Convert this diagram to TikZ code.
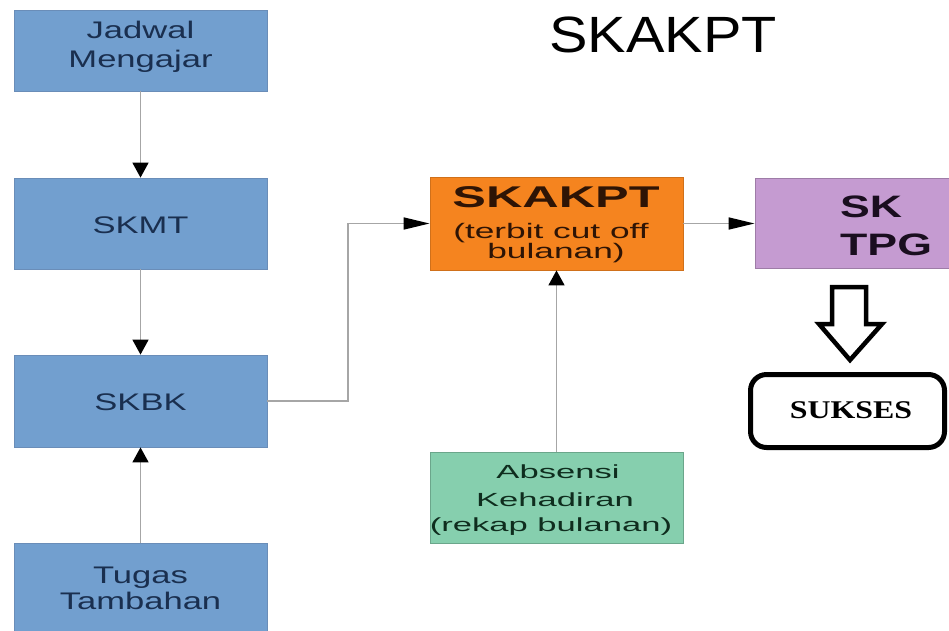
\documentclass[tikz,border=0pt]{standalone}
\usepackage{fontspec}
\setmainfont{Liberation Sans}
\newfontfamily\fBlue{Liberation Sans}[FakeStretch=1.44]
\newfontfamily\fTitle{Liberation Sans}[FakeStretch=1.13]
\newfontfamily\fOrange{Liberation Sans}[FakeStretch=1.68]
\newfontfamily\fGreen{Liberation Sans}[FakeStretch=1.82]
\newfontfamily\fSerif{Liberation Serif}[FakeStretch=1.25]
\usetikzlibrary{arrows.meta}
\definecolor{bluefill}{HTML}{729FCF}
\definecolor{blueline}{HTML}{6A8DB8}
\definecolor{bluetext}{HTML}{1A2F4F}
\definecolor{orangefill}{HTML}{F5841F}
\definecolor{orangetext}{HTML}{2E1405}
\definecolor{purplefill}{HTML}{C59BD1}
\definecolor{purpletext}{HTML}{1A0E1F}
\definecolor{greenfill}{HTML}{86CFAE}
\definecolor{greentext}{HTML}{0F2D1E}
\definecolor{connline}{HTML}{A6A6A6}
\tikzset{
  boxshape/.style={rectangle, inner sep=0pt, line width=0.8pt},
  bluebox/.style={boxshape, fill=bluefill, draw=blueline, minimum width=253pt},
  txtline/.style={anchor=base, inner sep=0pt},
  bluetxt/.style={txtline, text=bluetext, font=\fBlue\fontsize{24}{29}\selectfont},
  vconn/.style={draw=connline, line width=1.6pt, -{Triangle[length=15pt,width=16pt,color=black]}},
  hconn/.style={draw=connline, line width=1.6pt, -{Triangle[length=26pt,width=12pt,color=black]}},
}
\begin{document}
\begin{tikzpicture}[x=1pt,y=-1pt]
\clip (0,0) rectangle (949,630);
\fill[white] (0,0) rectangle (949,630);

% title
\node[txtline, font=\fTitle\fontsize{51}{60}\selectfont, text=black] (title) at (663,52) {SKAKPT};

% blue boxes
\node[bluebox, minimum height=81pt] (jad) at (140.5,50.5) {};
\node[bluebox, minimum height=91pt] (skmt) at (140.5,223.5) {};
\node[bluebox, minimum height=92pt] (skbk) at (140.5,401) {};
\node[bluebox, minimum height=97pt] (tugas) at (140.5,591.5) {};

\node[bluetxt] (jadA) at (140.5,38) {Jadwal};
\node[bluetxt] (jadB) at (140.5,67) {Mengajar};
\node[bluetxt] (skmtT) at (140.5,233) {SKMT};
\node[bluetxt] (skbkT) at (140.5,410) {SKBK};
\node[bluetxt] (tugA) at (140.5,583) {Tugas};
\node[bluetxt] (tugB) at (140.5,609) {Tambahan};

% orange box
\node[boxshape, fill=orangefill, draw=orangefill!85!black, minimum width=253pt, minimum height=93pt] (skakpt) at (556.5,223.5) {};
\node[txtline, text=orangetext, font=\fOrange\bfseries\fontsize{30}{36}\selectfont] (skakptA) at (556,207) {SKAKPT};
\node[txtline, text=orangetext, font=\fOrange\fontsize{21}{25}\selectfont] (skakptB) at (551,238) {(terbit cut off};
\node[txtline, text=orangetext, font=\fOrange\fontsize{21}{25}\selectfont] (skakptC) at (556,258) {bulanan)};

% purple box
\node[boxshape, fill=purplefill, draw=purplefill!80!black, minimum width=215pt, minimum height=90pt] (sktpg) at (862.5,223) {};
\node[txtline, anchor=base west, text=purpletext, font=\fBlue\bfseries\fontsize{31}{37}\selectfont] (sktpgA) at (840,217) {SK};
\node[txtline, anchor=base west, text=purpletext, font=\fBlue\bfseries\fontsize{31}{37}\selectfont] (sktpgB) at (840,255) {TPG};

% green box
\node[boxshape, fill=greenfill, draw=greenfill!80!black, minimum width=253pt, minimum height=91pt] (abs) at (556.5,497.5) {};
\node[txtline, text=greentext, font=\fGreen\fontsize{19}{24}\selectfont] (absA) at (558,478) {Absensi};
\node[txtline, text=greentext, font=\fGreen\fontsize{19}{24}\selectfont] (absB) at (555,506) {Kehadiran};
\node[txtline, text=greentext, font=\fGreen\fontsize{19}{24}\selectfont] (absC) at (551,531) {(rekap bulanan)};

% connectors
\coordinate (elb) at (348,0);
\draw[vconn] (jad.south) -- (skmt.north);
\draw[vconn] (skmt.south) -- (skbk.north);
\draw[vconn] (tugas.north) -- (skbk.south);
\draw[hconn] (skbk.east) -| (elb |- skakpt.west) -- (skakpt.west);
\draw[hconn] (skakpt.east) -- (sktpg.west |- skakpt.east);
\draw[vconn] (abs.north) -- (skakpt.south);

% hollow arrow
\draw[line width=4.5pt, line join=miter, fill=white]
  (832,287) -- (866,287) -- (866,324) -- (882,324) -- (850,360)
  -- (819,324) -- (832,324) -- cycle;

% sukses
\node[draw=black, line width=5pt, rounded corners=16pt, minimum width=194pt, minimum height=73pt, inner sep=0pt] (sukses) at (847.5,411) {};
\node[txtline, font=\fSerif\bfseries\fontsize{25.5}{30}\selectfont, text=black] (suksesT) at (851,418) {SUKSES};
\end{tikzpicture}
\end{document}
